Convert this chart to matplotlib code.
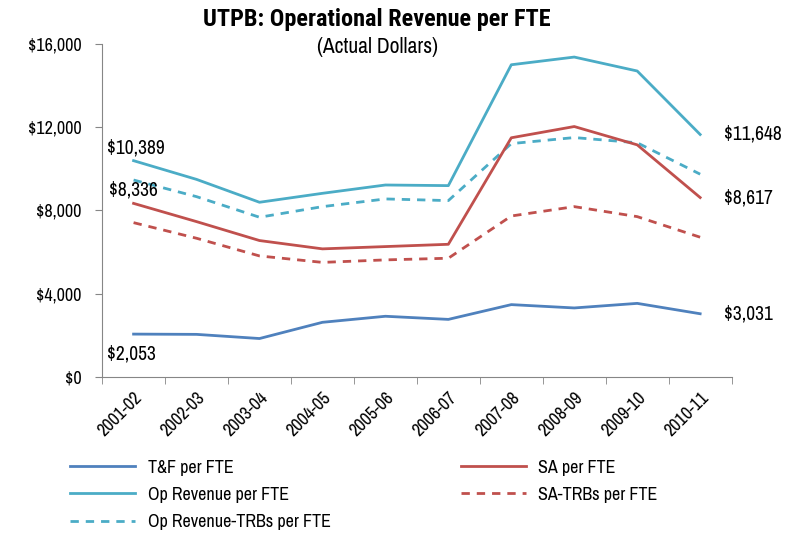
import matplotlib
matplotlib.use('Agg')
import matplotlib.pyplot as plt
from matplotlib.ticker import FuncFormatter

plt.rcParams['font.family'] = ['Archivo Narrow', 'DejaVu Sans']

years = ['2001-02', '2002-03', '2003-04', '2004-05', '2005-06',
         '2006-07', '2007-08', '2008-09', '2009-10', '2010-11']
tf_fte = [2053, 2040, 1840, 2620, 2910, 2760, 3470, 3310, 3530, 3031]
sa_fte = [8336, 7460, 6550, 6150, 6260, 6370, 11490, 12030, 11150, 8617]
oprev_fte = [10389, 9490, 8390, 8820, 9220, 9190, 15000, 15370, 14700, 11648]
sa_trb_fte = [7410, 6660, 5810, 5500, 5620, 5700, 7730, 8180, 7700, 6710]
oprev_trb_fte = [9460, 8660, 7670, 8180, 8550, 8470, 11210, 11500, 11250, 9740]

blue = '#4F81BD'
red = '#C0504D'
cyan = '#4BACC6'

fig = plt.figure(figsize=(8.04, 5.36), dpi=100)
ax = fig.add_axes([0.127, 0.297, 0.783, 0.621])

x = range(len(years))
lw = 2.0
ax.plot(x, tf_fte, color=blue, lw=lw, label='T&F per FTE')
ax.plot(x, oprev_fte, color=cyan, lw=lw, label='Op Revenue per FTE')
ax.plot(x, oprev_trb_fte, color=cyan, lw=lw, ls=(0, (3, 2.5)), label='Op Revenue-TRBs per FTE')
ax.plot(x, sa_fte, color=red, lw=lw, label='SA per FTE')
ax.plot(x, sa_trb_fte, color=red, lw=lw, ls=(0, (3, 2.5)), label='SA-TRBs per FTE')

ax.set_xlim(-0.5, len(years) - 0.5)
ax.set_ylim(0, 16000)
ax.set_yticks(range(0, 16001, 4000))
ax.yaxis.set_major_formatter(FuncFormatter(lambda v, p: '${:,.0f}'.format(v)))
ax.set_xticks(list(x))
ax.set_xticklabels(years, rotation=45, ha='right', rotation_mode='anchor', fontsize=13)
ax.set_xticks([i - 0.5 for i in range(len(years) + 1)], minor=True)
ax.tick_params(axis='x', which='major', length=0, pad=9)
ax.tick_params(axis='x', which='minor', length=5, color='#868686')
ax.tick_params(axis='y', length=5, color='#868686', labelsize=13, pad=10)
for s in ['top', 'right']:
    ax.spines[s].set_visible(False)
for s in ['left', 'bottom']:
    ax.spines[s].set_color('#868686')

# end labels
lab_fs = 14
ax.annotate('${:,}'.format(oprev_fte[0]), (0, oprev_fte[0]), xytext=(-19, 9),
            textcoords='offset points', fontsize=lab_fs, va='center')
ax.annotate('${:,}'.format(sa_fte[0]), (0, sa_fte[0]), xytext=(-18, 10),
            textcoords='offset points', fontsize=lab_fs, va='center')
ax.annotate('${:,}'.format(tf_fte[0]), (0, tf_fte[0]), xytext=(-19, -14),
            textcoords='offset points', fontsize=lab_fs, va='center')
ax.annotate('${:,}'.format(oprev_fte[-1]), (9, oprev_fte[-1]), xytext=(17, 0),
            textcoords='offset points', fontsize=lab_fs, va='center')
ax.annotate('${:,}'.format(sa_fte[-1]), (9, sa_fte[-1]), xytext=(17, 0),
            textcoords='offset points', fontsize=lab_fs, va='center')
ax.annotate('${:,}'.format(tf_fte[-1]), (9, tf_fte[-1]), xytext=(17, 0),
            textcoords='offset points', fontsize=lab_fs, va='center')

fig.text(0.469, 0.964, 'UTPB: Operational Revenue per FTE', ha='center', va='center',
         fontsize=17.5, fontweight='bold', family=['Roboto Condensed', 'DejaVu Sans'])
fig.text(0.469, 0.912, '(Actual Dollars)', ha='center', va='center', fontsize=15.5)

fig.legend(loc='upper left', bbox_to_anchor=(0.078, 0.156), ncol=2, frameon=False,
           fontsize=13, handlelength=3.6, columnspacing=7.2, labelspacing=0.62,
           handletextpad=0.7, borderaxespad=0)

plt.savefig('out.png', dpi=100)
